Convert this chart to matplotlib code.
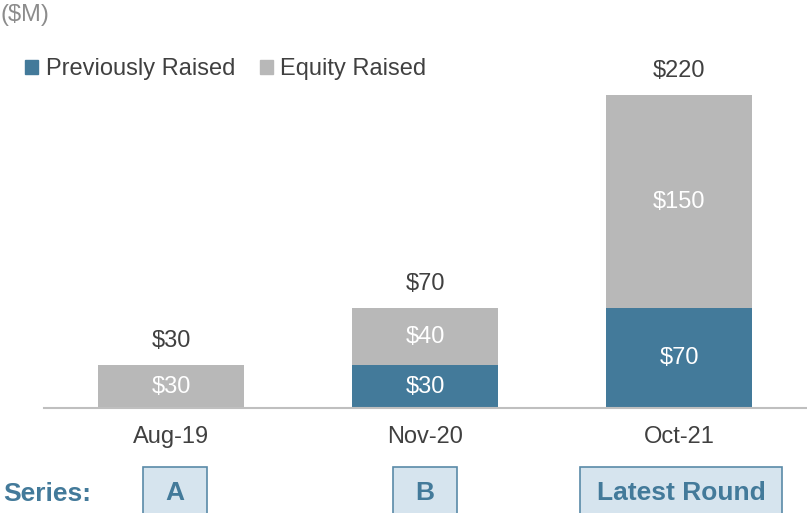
import matplotlib.pyplot as plt
from matplotlib.patches import Rectangle, Patch
from matplotlib.transforms import blended_transform_factory

plt.rcParams['font.family'] = ['Liberation Sans', 'DejaVu Sans']

dates = ["Aug-19", "Nov-20", "Oct-21"]
previously_raised = [0, 30, 70]
equity_raised = [30, 40, 150]
series_names = ["A", "B", "Latest Round"]

BLUE = "#437a9a"
GREY = "#b8b8b8"
DARK = "#404040"

W, H = 807, 513
fig = plt.figure(figsize=(W / 100, H / 100), dpi=100)
# axes placed in pixels: baseline at y=408, left at x=44
ax = fig.add_axes([44 / W, (H - 408) / H, 1 - 44 / W, (408 - 20) / H])

x = list(range(len(dates)))
bw = 0.575
ax.bar(x, previously_raised, bw, color=BLUE, zorder=2)
ax.bar(x, equity_raised, bw, bottom=previously_raised, color=GREY, zorder=2)

ax.set_xlim(-0.5, -0.5 + 763 / 254)
ax.set_ylim(0, 388 / 1.423)

fs = 17
for i in x:
    p, e = previously_raised[i], equity_raised[i]
    if p:
        ax.text(i, p / 2, f"${p}", ha="center", va="center", color="white", fontsize=fs)
    ax.text(i, p + e / 2, f"${e}", ha="center", va="center", color="white", fontsize=fs)
    ax.annotate(f"${p + e}", (i, p + e), xytext=(0, 24), textcoords="offset pixels",
                ha="center", va="center", color=DARK, fontsize=fs)

for s in ["top", "right", "left"]:
    ax.spines[s].set_visible(False)
ax.spines["bottom"].set_color("#bfbfbf")
ax.spines["bottom"].set_linewidth(1.5)
ax.set_yticks([])
ax.set_xticks(x)
ax.set_xticklabels(dates, fontsize=fs, color=DARK)
ax.tick_params(axis="x", length=0, pad=13)

fig.text(0, 1 - 15 / H, "($M)", ha="left", va="center", color="#8c8c8c", fontsize=fs)

handles = [Patch(color=BLUE, label="Previously Raised"), Patch(color=GREY, label="Equity Raised")]
fig.legend(handles=handles, loc="center left", bbox_to_anchor=(16 / W, 1 - 69 / H), ncol=2,
           frameon=False, fontsize=fs, handlelength=0.55, handleheight=0.55,
           handletextpad=0.3, columnspacing=1.05, labelcolor=DARK, borderaxespad=0)

# series boxes along the bottom edge
fig.text(3 / W, 1 - 494 / H, "Series:", ha="left", va="center", color=BLUE,
         fontsize=19, fontweight="bold")
trans = blended_transform_factory(ax.transData, fig.transFigure)
box_w = [64 / 254, 64 / 254, 202 / 254]
box_shift = [4 / 254, 0, 2 / 254]
for i, name in enumerate(series_names):
    cx = i + box_shift[i]
    ax.add_patch(Rectangle((cx - box_w[i] / 2, -0.1), box_w[i], 0.1 + (H - 467) / H,
                           transform=trans, facecolor="#d6e4ee", edgecolor="#5a8aa8",
                           linewidth=1.2, clip_on=False))
    ax.text(cx, 1 - 493 / H, name, transform=trans, ha="center", va="center", color=BLUE,
            fontsize=19, fontweight="bold")

fig.savefig("out.png", dpi=100)
